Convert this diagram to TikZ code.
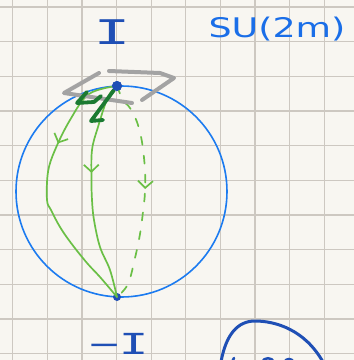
\documentclass[tikz,border=0pt]{standalone}
\usepackage{fontspec}
\setsansfont{DejaVu Sans}
\setmonofont{DejaVu Sans Mono}
\usepackage{tikz}
\usetikzlibrary{arrows.meta, decorations.markings}
\definecolor{paper}{HTML}{F8F6F1}
\definecolor{gridGray}{HTML}{CDC8C1}
\definecolor{inkBlue}{HTML}{1F4FB5}
\definecolor{penBlue}{HTML}{1A6EE8}
\definecolor{sphereBlue}{HTML}{1C7BF0}
\definecolor{pathGreen}{HTML}{6ABF45}
\definecolor{vecGreen}{HTML}{1B7A32}
\definecolor{planeGray}{HTML}{A3A3A3}

\begin{document}
\begin{tikzpicture}[x=1pt, y=-1pt,
  gridline/.style={gridGray, line width=1.3pt},
  sphere/.style={sphereBlue, line width=1.6pt},
  dot/.style={circle, fill=inkBlue, inner sep=0pt, minimum size=#1},
  dot/.default=10pt,
  geo/.style={pathGreen, line width=1.7pt, line cap=round, line join=round},
  midarr/.style={postaction={decorate}, decoration={markings,
      mark=at position #1 with {\arrow{Straight Barb[length=7pt, width=15pt, line width=1.7pt]}}}},
  plane/.style={planeGray, line width=4pt, line cap=round, line join=round},
  vec/.style={vecGreen, line width=3.8pt, line cap=round, line join=round},
  ink/.style={inkBlue, line width=3pt, line cap=round},
  handtext/.style={inner sep=0pt, anchor=base}
]
\useasboundingbox (0,0) rectangle (354,360);
\clip (0,0) rectangle (354,360);
\fill[paper] (0,0) rectangle (354,360);
\foreach \k in {0,...,9}
  \draw[gridline] ({12.7+34.63*\k},0) -- ({12.7+34.63*\k},360);
\foreach \k in {0,...,10}
  \draw[gridline] (0,{7+34.67*\k}) -- (354,{7+34.67*\k});

\draw[sphere] (121.5,191.5) circle[radius=105.5];

\node[dot] (top) at (117,86) {};
\node[dot=8pt] (bot) at (117,297) {};

\draw[geo, midarr=0.33] plot[smooth, tension=0.6] coordinates {(top) (89,94) (70,120)
  (55,150) (48,172) (47,200) (51,210) (60,227) (71,243) (87,263) (100,277) (bot)};
\draw[geo, midarr=0.42] plot[smooth, tension=0.6] coordinates {(top) (108,97) (98,127)
  (92,150) (91.5,180) (92,200) (94,220) (100,247) (110,270) (bot)};
\draw[geo, dash pattern=on 8pt off 11pt, midarr=0.49] plot[smooth, tension=0.6] coordinates {(top)
  (123,100) (130,108) (137,122) (142,142) (145,170) (145,192) (143,212) (140,234) (135,258) (128,284) (bot)};

\draw[plane] (99,73) -- (64,93) -- (132,103);
\draw[plane] (109,71) -- (160,73) -- (174,78) -- (142,100);

\draw[vec] (top) -- (91,121) -- (103,120);
\draw[vec] (87,92) -- (77,103) -- (94,102) -- (101,96);
\node[dot] at (top) {};

\node[handtext, inkBlue, font=\fontsize{34}{34}\selectfont\ttfamily] (idTop) at (112,44)
  {\scalebox{1.8}[1]{I}};
\node[handtext, penBlue, font=\fontsize{27}{27}\selectfont\sffamily] (group) at (277,37.5)
  {\scalebox{1.35}[1]{SU(2m)}};
\node[handtext, inkBlue, font=\fontsize{29}{29}\selectfont\ttfamily] (idBot) at (119,354)
  {\scalebox{1.7}[1]{−I}};

\draw[ink] (221,362) .. controls (226,334) and (238,321) .. (255,321)
  .. controls (276,321) and (305,330) .. (323,362);
\draw[ink, line width=2.5pt] (232,362) -- (234,358);
\draw[ink, line width=2.5pt] (262,362) .. controls (264,357) and (272,357) .. (274,362);
\draw[ink, line width=2.5pt] (284,362) .. controls (287,358) and (291,358) .. (294,362);
\end{tikzpicture}
\end{document}
